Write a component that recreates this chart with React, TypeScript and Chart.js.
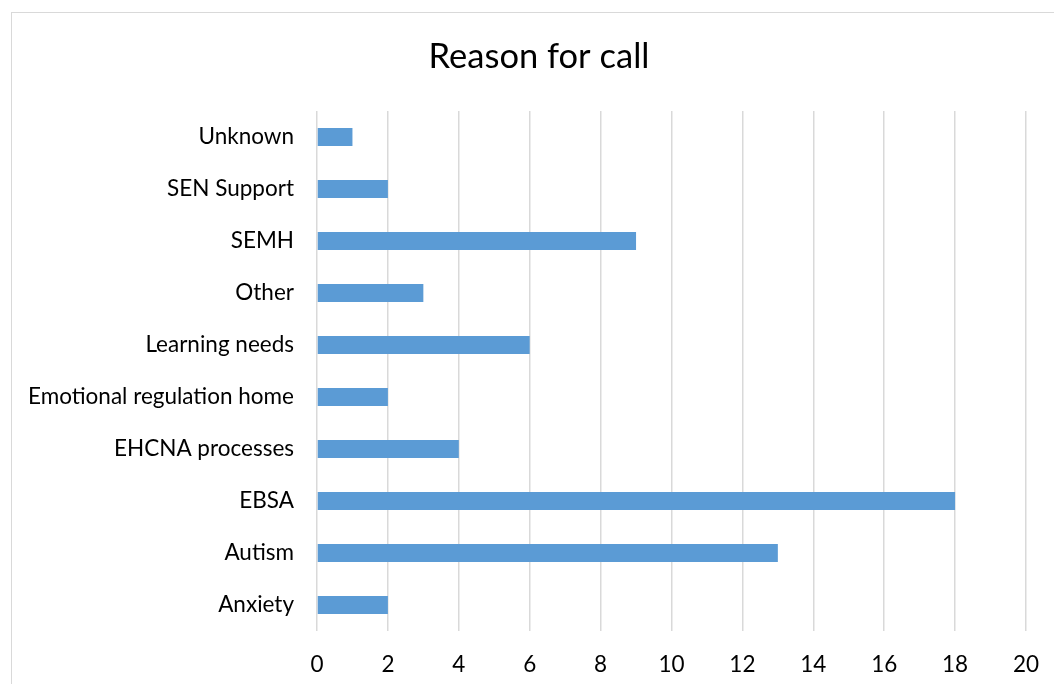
import React, { useEffect, useRef } from "react";
import { Chart, registerables } from "chart.js";

Chart.register(...registerables);

const categories = [
  "Unknown",
  "SEN Support",
  "SEMH",
  "Other",
  "Learning needs",
  "Emotional regulation home",
  "EHCNA processes",
  "EBSA",
  "Autism",
  "Anxiety",
];
const callCounts = [1, 2, 9, 3, 6, 2, 4, 18, 13, 2];
const xTicks = [0, 2, 4, 6, 8, 10, 12, 14, 16, 18, 20];
const chartTitle = "Reason for call";

const FONT = "Lato, 'Open Sans', sans-serif";

// Title centred on the whole chart frame rather than the plot area
const frameTitle = {
  id: "frameTitle",
  afterDraw(chart: any) {
    const ctx = chart.ctx;
    ctx.save();
    ctx.fillStyle = "#000";
    ctx.font = `34.5px ${FONT}`;
    ctx.textAlign = "center";
    ctx.textBaseline = "middle";
    ctx.fillText(chartTitle, 539, 57);
    ctx.restore();
  },
};

export default function App() {
  const canvasRef = useRef<HTMLCanvasElement | null>(null);

  useEffect(() => {
    document.body.style.margin = "0";
    document.body.style.overflow = "hidden";
    const canvas = canvasRef.current;
    if (!canvas) return;
    const chart = new Chart(canvas, {
      type: "bar",
      data: {
        labels: categories,
        datasets: [
          {
            label: chartTitle,
            data: callCounts,
            backgroundColor: "#5B9BD5",
            borderWidth: 0,
            categoryPercentage: 1,
            barPercentage: 0.345,
          },
        ],
      },
      plugins: [frameTitle],
      options: {
        indexAxis: "y",
        animation: false,
        responsive: false,
        maintainAspectRatio: false,
        layout: { padding: { left: 0, right: 28, top: 111, bottom: 0 } },
        plugins: {
          legend: { display: false },
          tooltip: { enabled: false },
          title: { display: false },
        },
        scales: {
          x: {
            min: 0,
            max: 20,
            afterBuildTicks: (scale: any) => {
              scale.ticks = xTicks.map((v) => ({ value: v }));
            },
            afterFit: (scale: any) => {
              scale.height = 53;
              scale.paddingLeft = 0;
              scale.paddingRight = 0;
            },
            grid: { color: "#d9d9d9", lineWidth: 1.5, drawTicks: false },
            border: { display: false },
            ticks: {
              color: "#000",
              padding: 20,
              font: { family: FONT, size: 22.5 },
            },
          },
          y: {
            afterFit: (scale: any) => {
              scale.width = 317;
              scale.paddingTop = 0;
              scale.paddingBottom = 0;
            },
            grid: { display: false, drawTicks: false },
            border: { display: false },
            ticks: {
              color: "#000",
              padding: 23,
              font: { family: FONT, size: 22.5 },
            },
          },
        },
      },
    });
    return () => chart.destroy();
  }, []);

  return (
    <div style={{ position: "relative", width: 1054, height: 684, overflow: "hidden" }}>
      <canvas ref={canvasRef} width={1054} height={684} style={{ position: "absolute", left: 0, top: 0 }} />
      <div
        style={{
          position: "absolute",
          left: 11,
          top: 12,
          width: 1100,
          height: 800,
          border: "1.5px solid #d9d9d9",
          pointerEvents: "none",
        }}
      />
    </div>
  );
}
